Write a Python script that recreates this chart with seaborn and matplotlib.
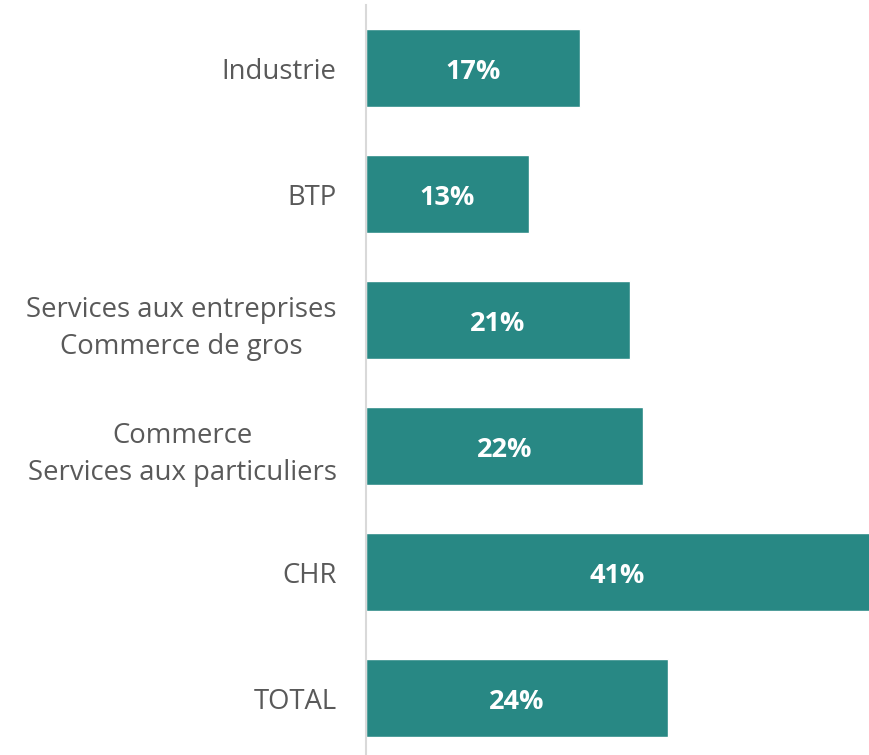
import matplotlib
matplotlib.use("Agg")
import matplotlib.pyplot as plt
import seaborn as sns
import pandas as pd

# data
sectors = ["Industrie", "BTP", "Services aux entreprises\nCommerce de gros",
           "Commerce\nServices aux particuliers", "CHR", "TOTAL"]
shares = [17, 13, 21, 22, 41, 24]

df = pd.DataFrame({"sector": sectors, "share": shares})

sns.set_theme(style="white")
plt.rcParams["font.family"] = ["Open Sans", "DejaVu Sans"]

fig = plt.figure(figsize=(8.69, 7.55), dpi=100)
ax = fig.add_axes([0.421, -0.008, 0.579, 1.001])

sns.barplot(data=df, x="share", y="sector", color="#288884", saturation=1,
            width=0.62, ax=ax)

ax.set_xlim(0, 40)
ax.set_xlabel("")
ax.set_ylabel("")
ax.set_xticks([])
for side in ["top", "right", "bottom"]:
    ax.spines[side].set_visible(False)
ax.spines["left"].set_color("#D9D9D9")
ax.spines["left"].set_linewidth(1.5)

ax.tick_params(axis="y", length=0, pad=21)
for lbl in ax.get_yticklabels():
    lbl.set_fontsize(19.8)
    lbl.set_color("#595959")
    lbl.set_multialignment("center")
    lbl.set_linespacing(1.45)

for i, v in enumerate(shares):
    ax.text(min(v, 40) / 2, i + 0.03, f"{v}%", ha="center", va="center",
            color="white", fontsize=19.5, fontweight="bold")

fig.savefig("out.png", dpi=100)
